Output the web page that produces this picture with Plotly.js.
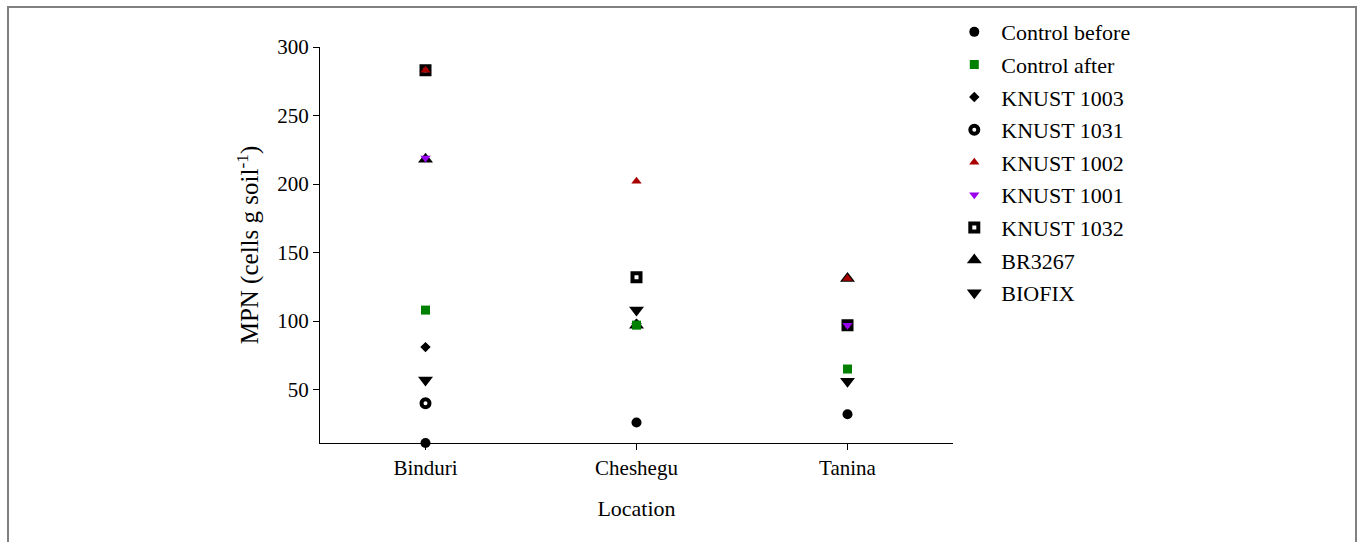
<!DOCTYPE html>
<html>
<head>
<meta charset="utf-8">
<script src="https://cdn.plot.ly/plotly-3.0.1.min.js"></script>
<style>
html,body{margin:0;padding:0;background:#fff;}
#wrap{position:relative;width:1357px;height:542px;overflow:hidden;}
#chart{position:absolute;left:0;top:0;width:1357px;height:542px;}
#frame{position:absolute;left:7px;top:6px;width:1346px;height:560px;border-left:2px solid #808080;border-top:2px solid #808080;border-right:2px solid #808080;pointer-events:none;}
</style>
</head>
<body>
<div id="wrap"><div id="chart"></div><div id="frame"></div></div>
<script>
// Categories
const locations = ["Binduri", "Cheshegu", "Tanina"];

// Series values (MPN, cells g soil^-1); null = not visible
const controlBefore = [11, 26, 32];
const controlAfter  = [108, 97, 65];
const knust1003     = [81, 98, null];
const knust1031     = [40, null, null];
const knust1002     = [283, 202, 131];
const knust1001     = [219, null, 97];
const knust1032     = [283, 132, 97];
const br3267        = [218, 97, 131];
const biofix        = [57, 108, 56];

// Tick labels
const yTicks = [50, 100, 150, 200, 250, 300];

const seriesDefs = [
  {name: "Control before", y: controlBefore, symbol: "circle",        color: "#000000", size: 10, lw: 0},
  {name: "Control after",  y: controlAfter,  symbol: "square",        color: "#008000", size: 9,  lw: 0},
  {name: "KNUST 1003",     y: knust1003,     symbol: "diamond",       color: "#000000", size: 8,  lw: 0},
  {name: "KNUST 1031",     y: knust1031,     symbol: "circle-open",   color: "#000000", size: 8,  lw: 4},
  {name: "KNUST 1002",     y: knust1002,     symbol: "triangle-up",   color: "#a80000", size: 9,  lw: 0},
  {name: "KNUST 1001",     y: knust1001,     symbol: "triangle-down", color: "#9900ee", size: 9,  lw: 0},
  {name: "KNUST 1032",     y: knust1032,     symbol: "square-open",   color: "#000000", size: 8,  lw: 4},
  {name: "BR3267",         y: br3267,        symbol: "triangle-up",   color: "#000000", size: 13, lw: 0},
  {name: "BIOFIX",         y: biofix,        symbol: "triangle-down", color: "#000000", size: 13, lw: 0}
];

// earlier series drawn on top -> add in reverse order
const traces = seriesDefs.slice().reverse().map((s) => ({
  type: "scatter",
  mode: "markers",
  name: s.name,
  legendgroup: s.name,
  legendrank: seriesDefs.indexOf(s) + 1,
  x: locations,
  y: s.y,
  marker: {
    symbol: s.symbol,
    size: s.size,
    color: s.color,
    line: {color: s.color, width: s.lw}
  },
  cliponaxis: false
}));

const fam = "Liberation Serif, Times New Roman, serif";

const layout = {
  width: 1357,
  height: 542,
  paper_bgcolor: "#ffffff",
  plot_bgcolor: "#ffffff",
  font: {family: fam, color: "#000", size: 21},
  margin: {l: 320, r: 404, t: 46, b: 99},
  showlegend: true,
  legend: {
    x: 0.991, xanchor: "left",
    y: 1.088, yanchor: "top",
    font: {family: fam, size: 22, color: "#000"},
    tracegroupgap: 1,
    itemwidth: 44,
    maxheight: 900,
    bgcolor: "rgba(0,0,0,0)"
  },
  xaxis: {
    type: "category",
    range: [-0.5, 2.5],
    showline: true, linecolor: "#000", linewidth: 1,
    ticks: "outside", ticklen: 6, tickcolor: "#000",
    showgrid: false, zeroline: false,
    tickfont: {family: fam, size: 21, color: "#000"},
    title: {text: "Location", font: {family: fam, size: 22, color: "#000"}, standoff: 21}
  },
  yaxis: {
    range: [11, 300],
    tickvals: yTicks,
    ticktext: yTicks.map(String),
    showline: true, linecolor: "#000", linewidth: 1,
    ticks: "outside", ticklen: 6, tickcolor: "#000",
    showgrid: false, zeroline: false,
    tickfont: {family: fam, size: 21, color: "#000"},
    title: {text: "MPN (cells g soil<sup>-1</sup>)", font: {family: fam, size: 25, color: "#000"}, standoff: 11}
  }
};

Plotly.newPlot("chart", traces, layout, {displayModeBar: false, staticPlot: true});
</script>
</body>
</html>
